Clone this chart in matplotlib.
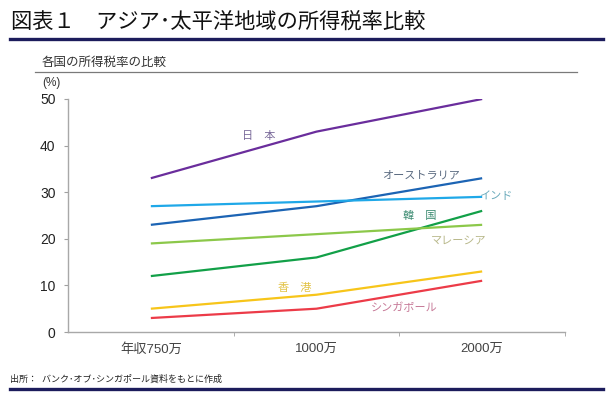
import matplotlib
matplotlib.use("Agg")
import matplotlib.pyplot as plt
from matplotlib.lines import Line2D

plt.rcParams['font.family'] = ['Liberation Sans', 'Noto Sans CJK JP', 'DejaVu Sans']

categories = ["年収750万", "1000万", "2000万"]
countries = ["日　本", "オーストラリア", "インド", "韓　国", "マレーシア", "香　港", "シンガポール"]
japan = [33, 43, 50]
australia = [23, 27, 33]
india = [27, 28, 29]
korea = [12, 16, 26]
malaysia = [19, 21, 23]
hongkong = [5, 8, 13]
singapore = [3, 5, 11]
series = [japan, australia, india, korea, malaysia, hongkong, singapore]
yticks = [0, 10, 20, 30, 40, 50]

line_colors = ["#6a2d9c", "#1c64b4", "#1fa8e8", "#12a048", "#8cc84a", "#f7c51a", "#ec3b48"]
label_colors = ["#7a6a9a", "#5a6a80", "#6aaabb", "#3a8a70", "#b8b88a", "#e2c244", "#c77a98"]
# label anchor (x in data units, y in data units)
label_pos = [(0.65, 42), (1.63, 33.5), (2.08, 29.2), (1.62, 24.8), (1.86, 19.6), (0.87, 9.5), (1.53, 5.2)]

W, H = 610, 398
fig = plt.figure(figsize=(W / 100, H / 100), dpi=100)

def fx(x):
    return x / W

def fy(y):
    return 1 - y / H

ax_l, ax_r, ax_t, ax_b = 68, 565, 99, 332
ax = fig.add_axes([fx(ax_l), fy(ax_b), (ax_r - ax_l) / W, (ax_b - ax_t) / H])

xs = list(range(len(categories)))
for vals, c in zip(series, line_colors):
    ax.plot(xs, vals, color=c, lw=1.6, solid_capstyle='butt')

for name, (lx, ly), c in zip(countries, label_pos, label_colors):
    ax.text(lx, ly, name, color=c, fontsize=8, ha='center', va='center')

ax.set_xlim(-0.5, 2.5)
ax.set_ylim(0, 50)
ax.set_yticks(yticks)
ax.set_yticklabels([str(v) for v in yticks], fontsize=10, color="#222222")
ax.set_xticks(xs)
ax.set_xticklabels(categories, fontsize=9.5, color="#444444")
ax.tick_params(axis='x', length=0, pad=8)
ax.set_xticks([0.5, 1.5, 2.5], minor=True)
ax.tick_params(axis='x', which='minor', length=3, color="#a0a0a0", direction='out')
ax.tick_params(axis='y', length=3, color="#a0a0a0", pad=6)
for s in ['top', 'right']:
    ax.spines[s].set_visible(False)
for s in ['left', 'bottom']:
    ax.spines[s].set_color("#a8a8a8")
    ax.spines[s].set_linewidth(1)
ax.patch.set_alpha(0)

# title and decorations
fig.text(fx(11), fy(22), "図表１　アジア･太平洋地域の所得税率比較", fontsize=15.3,
         ha='left', va='center', color="#111111")
fig.add_artist(Line2D([fx(10), fx(603)], [fy(38.5), fy(38.5)], color="#1c1c5c", lw=2.4))
fig.text(fx(42), fy(63), "各国の所得税率の比較", fontsize=9, ha='left', va='center', color="#333333")
fig.add_artist(Line2D([fx(35), fx(577)], [fy(72), fy(72)], color="#7a7a7a", lw=0.9))
fig.text(fx(42), fy(83), "(%)", fontsize=8.5, ha='left', va='center', color="#333333")
fig.text(fx(10), fy(379), "出所：  バンク･オブ･シンガポール資料をもとに作成", fontsize=6.5,
         ha='left', va='center', color="#222222")
fig.add_artist(Line2D([fx(10), fx(603)], [fy(389), fy(389)], color="#1c1c5c", lw=2.4))

fig.savefig("out.png", dpi=100)
